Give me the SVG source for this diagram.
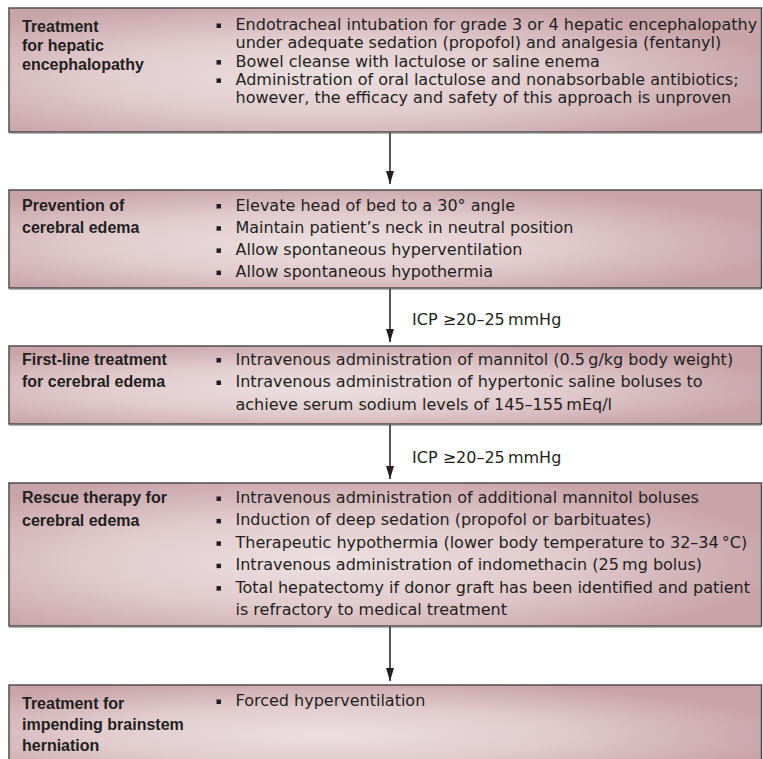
<svg xmlns="http://www.w3.org/2000/svg" width="763" height="759" viewBox="0 0 763 759">
<defs>
<radialGradient id="boxfill" cx="0.42" cy="0.55" r="0.62">
<stop offset="0" stop-color="#ecdfe0"/>
<stop offset="0.5" stop-color="#e1cbcd"/>
<stop offset="1" stop-color="#c8a3a8"/>
</radialGradient>
<marker id="arrow" markerUnits="userSpaceOnUse" markerWidth="14" markerHeight="9" refX="13" refY="4" orient="auto">
<path d="M0,0 L13,4 L0,8 Z" fill="#231f20"/>
</marker>
<style>
.box{fill:url(#boxfill);stroke:#4d4d4d;stroke-width:1.5}
.shadow{stroke:#b5b5b5;stroke-width:1}
.title{font-family:"Liberation Sans",Arial,sans-serif;font-weight:bold;font-size:16px;fill:#231f20}
.body{font-family:"DejaVu Sans","Liberation Sans",sans-serif;font-size:16px;fill:#231f20}
.bul{fill:#231f20}
.conn{stroke:#231f20;stroke-width:1.5;fill:none}
</style>
</defs>
<rect width="763" height="759" fill="#ffffff"/>

<g id="node-hepatic">
<rect class="box" x="9" y="8" width="752.5" height="124"/>
<line class="shadow" x1="9" y1="133.5" x2="761.5" y2="133.5"/>
<text class="title" x="22" y="32">Treatment</text>
<text class="title" x="22" y="51">for hepatic</text>
<text class="title" x="22" y="70">encephalopathy</text>
<rect class="bul" x="216.5" y="23.5" width="4.5" height="4.5"/>
<text class="body" x="235.5" y="30">Endotracheal intubation for grade 3 or 4 hepatic encephalopathy</text>
<text class="body" x="235.5" y="48.3">under adequate sedation (propofol) and analgesia (fentanyl)</text>
<rect class="bul" x="216.5" y="60.1" width="4.5" height="4.5"/>
<text class="body" x="235.5" y="66.6">Bowel cleanse with lactulose or saline enema</text>
<rect class="bul" x="216.5" y="78.4" width="4.5" height="4.5"/>
<text class="body" x="235.5" y="84.9">Administration of oral lactulose and nonabsorbable antibiotics;</text>
<text class="body" x="235.5" y="103.2">however, the efficacy and safety of this approach is unproven</text>
</g>

<g id="node-prevention">
<rect class="box" x="9" y="190" width="752.5" height="98"/>
<line class="shadow" x1="9" y1="289.5" x2="761.5" y2="289.5"/>
<text class="title" x="22" y="211">Prevention of</text>
<text class="title" x="22" y="233">cerebral edema</text>
<rect class="bul" x="216.5" y="204" width="4.5" height="4.5"/>
<text class="body" x="235.5" y="210.5">Elevate head of bed to a 30° angle</text>
<rect class="bul" x="216.5" y="226.2" width="4.5" height="4.5"/>
<text class="body" x="235.5" y="232.7">Maintain patient’s neck in neutral position</text>
<rect class="bul" x="216.5" y="248.4" width="4.5" height="4.5"/>
<text class="body" x="235.5" y="254.9">Allow spontaneous hyperventilation</text>
<rect class="bul" x="216.5" y="270.6" width="4.5" height="4.5"/>
<text class="body" x="235.5" y="277.1">Allow spontaneous hypothermia</text>
</g>

<g id="node-firstline">
<rect class="box" x="9" y="346" width="752.5" height="78"/>
<line class="shadow" x1="9" y1="425.5" x2="761.5" y2="425.5"/>
<text class="title" x="22" y="364.5">First-line treatment</text>
<text class="title" x="22" y="387">for cerebral edema</text>
<rect class="bul" x="216.5" y="358" width="4.5" height="4.5"/>
<text class="body" x="235.5" y="364.5">Intravenous administration of mannitol (0.5&#8201;g/kg body weight)</text>
<rect class="bul" x="216.5" y="380.5" width="4.5" height="4.5"/>
<text class="body" x="235.5" y="387">Intravenous administration of hypertonic saline boluses to</text>
<text class="body" x="235.5" y="409.5">achieve serum sodium levels of 145–155&#8201;mEq/l</text>
</g>

<g id="node-rescue">
<rect class="box" x="9" y="483" width="752.5" height="143"/>
<line class="shadow" x1="9" y1="627.5" x2="761.5" y2="627.5"/>
<text class="title" x="22" y="503">Rescue therapy for</text>
<text class="title" x="22" y="525.5">cerebral edema</text>
<rect class="bul" x="216.5" y="496.5" width="4.5" height="4.5"/>
<text class="body" x="235.5" y="503">Intravenous administration of additional mannitol boluses</text>
<rect class="bul" x="216.5" y="518.9" width="4.5" height="4.5"/>
<text class="body" x="235.5" y="525.4">Induction of deep sedation (propofol or barbituates)</text>
<rect class="bul" x="216.5" y="541.3" width="4.5" height="4.5"/>
<text class="body" x="235.5" y="547.8">Therapeutic hypothermia (lower body temperature to 32–34&#8201;°C)</text>
<rect class="bul" x="216.5" y="563.7" width="4.5" height="4.5"/>
<text class="body" x="235.5" y="570.2">Intravenous administration of indomethacin (25&#8201;mg bolus)</text>
<rect class="bul" x="216.5" y="586.1" width="4.5" height="4.5"/>
<text class="body" x="235.5" y="592.6">Total hepatectomy if donor graft has been identified and patient</text>
<text class="body" x="235.5" y="615">is refractory to medical treatment</text>
</g>

<g id="node-herniation">
<rect class="box" x="9" y="685" width="752.5" height="90"/>
<text class="title" x="22" y="709">Treatment for</text>
<text class="title" x="22" y="730">impending brainstem</text>
<text class="title" x="22" y="751">herniation</text>
<rect class="bul" x="216.5" y="699.5" width="4.5" height="4.5"/>
<text class="body" x="235.5" y="706">Forced hyperventilation</text>
</g>

<g id="connectors">
<line class="conn" x1="390" y1="132.8" x2="390" y2="184" marker-end="url(#arrow)"/>
<line class="conn" x1="390" y1="288.8" x2="390" y2="342" marker-end="url(#arrow)"/>
<line class="conn" x1="390" y1="424.8" x2="390" y2="479" marker-end="url(#arrow)"/>
<line class="conn" x1="390" y1="626.8" x2="390" y2="681" marker-end="url(#arrow)"/>
<text class="body" x="412" y="325">ICP ≥20–25&#8201;mmHg</text>
<text class="body" x="412" y="463">ICP ≥20–25&#8201;mmHg</text>
</g>
</svg>
